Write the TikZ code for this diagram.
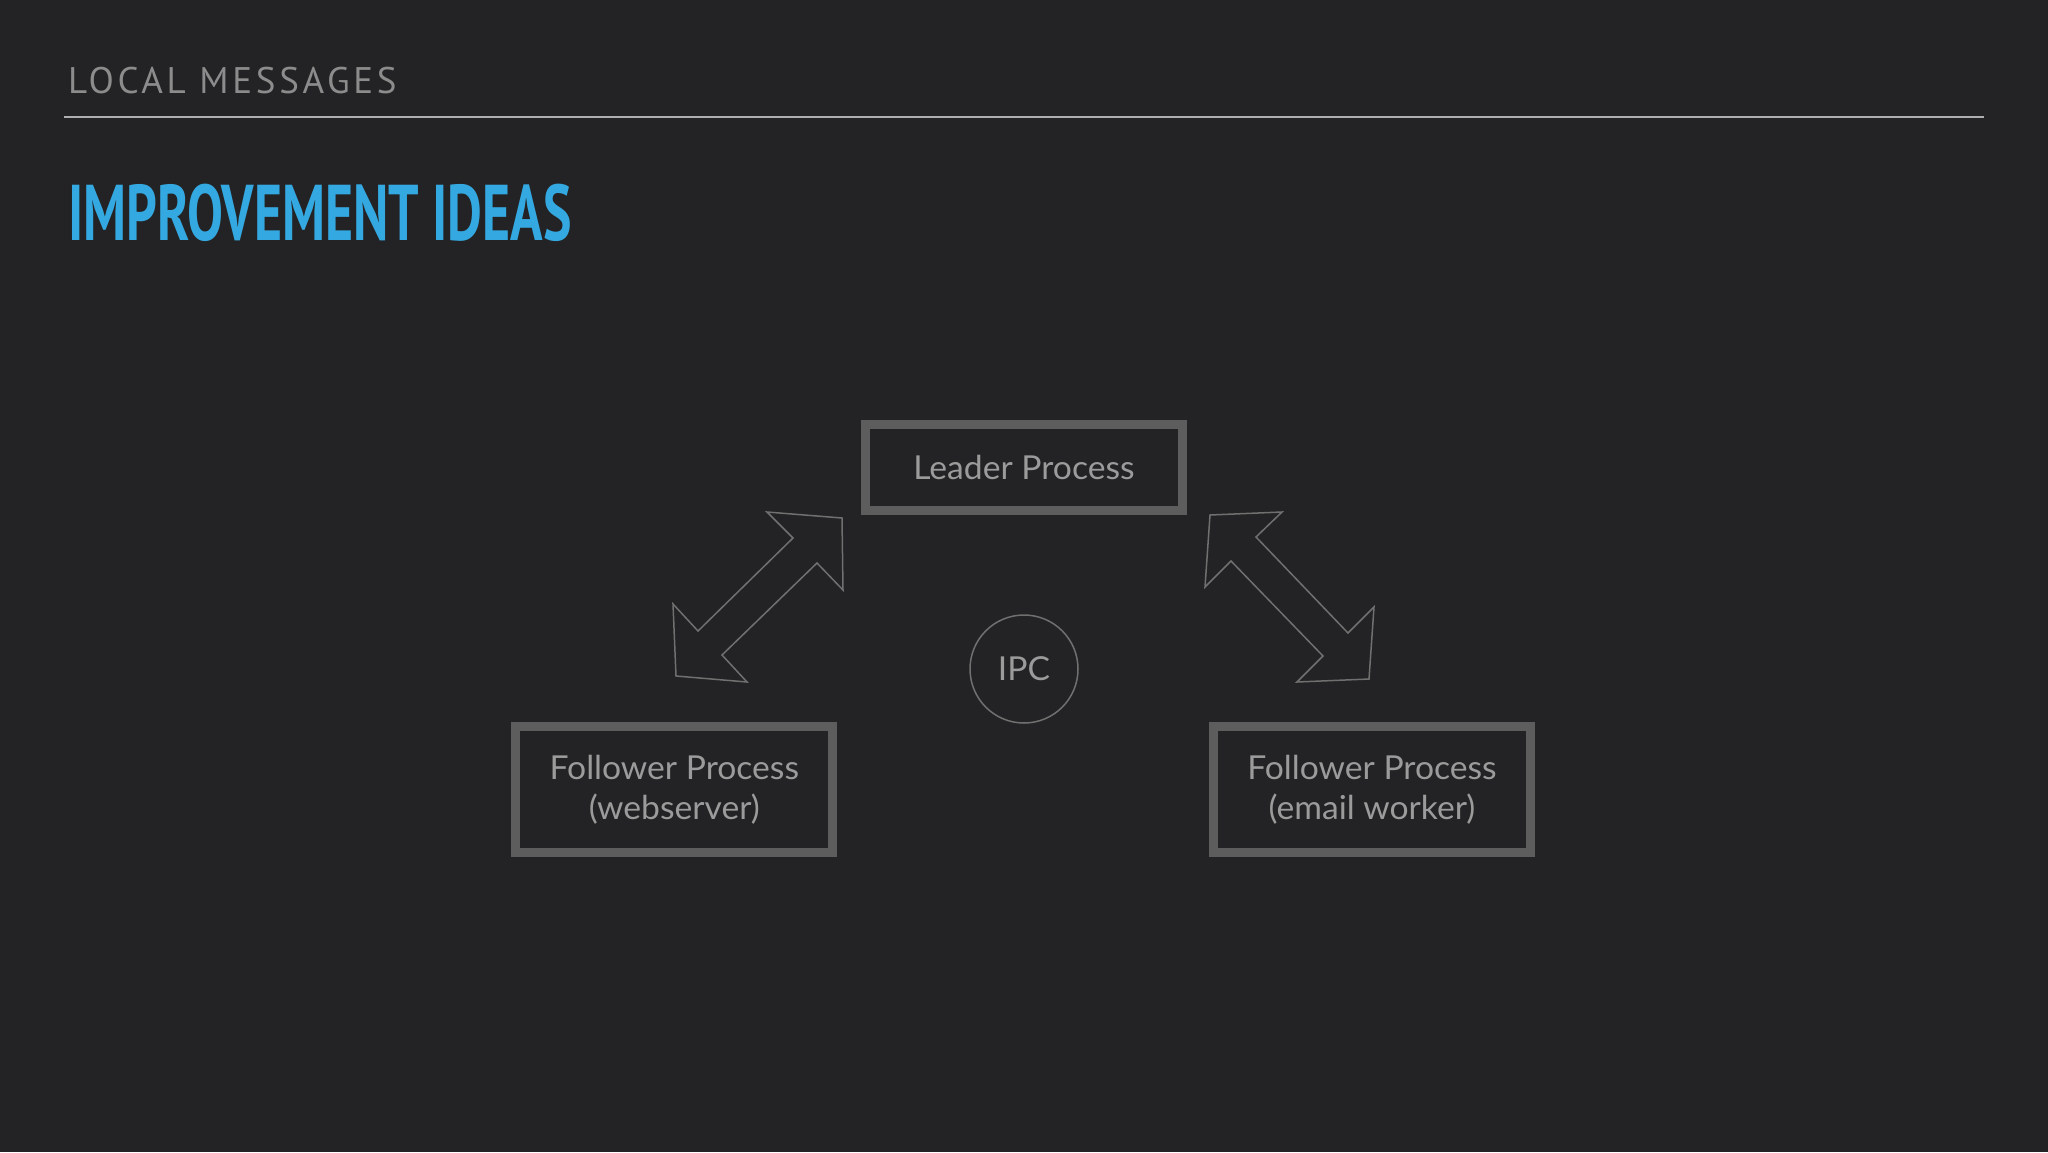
\documentclass[tikz,border=0pt]{standalone}
\usepackage{fontspec}
\setmainfont[FakeStretch=1.02]{Lato}
\newfontfamily\headfont[LetterSpace=10]{PT Sans}
\newfontfamily\titlefont[FakeStretch=0.68]{PT Sans}
\usetikzlibrary{shapes}
\definecolor{slidebg}{RGB}{35,34,36}
\definecolor{boxgray}{RGB}{93,93,93}
\definecolor{textgray}{RGB}{155,155,155}
\definecolor{headgray}{RGB}{140,140,140}
\definecolor{rulegray}{RGB}{175,175,175}
\definecolor{titleblue}{RGB}{52,169,225}
\definecolor{linegray}{RGB}{112,112,112}
\tikzstyle{process}=[draw=boxgray,line width=9pt,minimum width=317pt,inner sep=0pt,text=textgray,align=center,font=\fontsize{33}{40}\selectfont]
\tikzstyle{leader process} = [process, minimum height=86pt]
\tikzstyle{follower process} = [process, minimum height=126pt]
\tikzstyle{channel}=[circle,draw=linegray,line width=1.5pt,minimum size=108pt,inner sep=0pt,text=textgray,font=\fontsize{33}{40}\selectfont]
\tikzstyle{big arrow} = [draw=linegray,line width=1.5pt,line join=miter]

\begin{document}
\begin{tikzpicture}[x=1pt,y=-1pt]
    % slide background and header
    \fill[slidebg] (0,0) rectangle (2048,1152);
    \useasboundingbox (0,0) rectangle (2048,1152);
    \node[anchor=base west,inner sep=0pt,text=headgray,font=\headfont\fontsize{37}{40}\selectfont] (header) at (68,93.3) {LOCAL MESSAGES};
    \draw[rulegray,line width=2pt] (64,117.3) -- (1984,117.3);
    \node[anchor=base west,inner sep=0pt,text=titleblue,font=\titlefont\bfseries\fontsize{79}{80}\selectfont] (title) at (68,240) {IMPROVEMENT IDEAS};

    % the processes
    \node[leader process] (leader) at (1024,467.7) {Leader Process};
    \foreach \pos/\name/\txt in {{(674.3,789.8)/webfollower/{Follower Process\\(webserver)}}, {(1372,789.8)/mailfollower/{Follower Process\\(email worker)}}}
        \node[follower process] (\name) at \pos {\txt};
    \node[channel] (ipc) at (1024,669) {IPC};

    % double arrows between leader and followers
    \draw[big arrow] (767,512) -- (842,518) -- (843,590) -- (817,563) -- (722,655) -- (747,682)
        -- (676,676) -- (673,604) -- (698,631) -- (793,538) -- cycle;
    \draw[big arrow] (1282,512) -- (1210,515) -- (1205,587) -- (1231,561) -- (1323,656) -- (1297,682)
        -- (1369,679) -- (1374,607) -- (1348,633) -- (1256,537) -- cycle;
\end{tikzpicture}
\end{document}
